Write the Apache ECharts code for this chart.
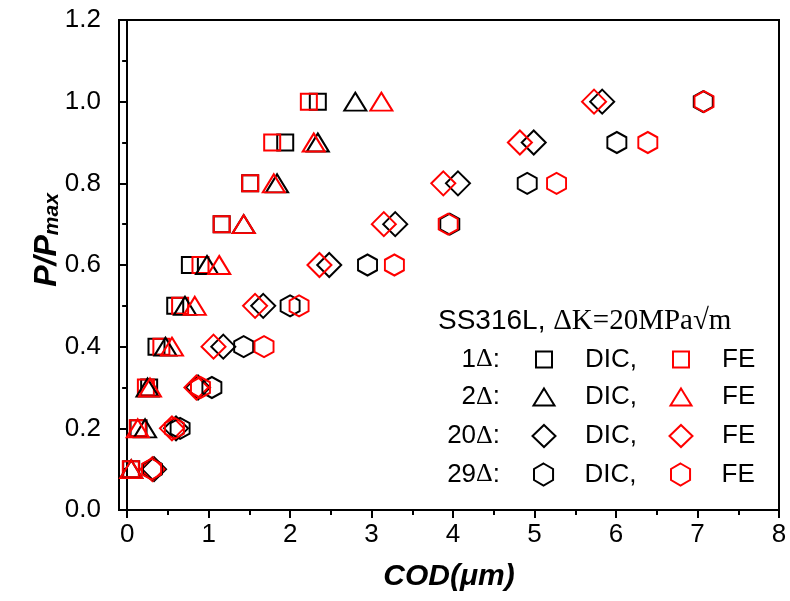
<!DOCTYPE html>
<html><head><meta charset="utf-8">
<script src="https://cdn.jsdelivr.net/npm/echarts@6/dist/echarts.min.js"></script>
<style>html,body{margin:0;padding:0;background:#fff}#c{width:790px;height:601px}</style>
</head><body><div id="c"></div>
<script>
// ---------------- data ----------------
const loadLevels = [0.1, 0.2, 0.3, 0.4, 0.5, 0.6, 0.7, 0.8, 0.9, 1.0];   // P/Pmax
const cod1DIC  = [0.05, 0.14, 0.27, 0.36, 0.59, 0.77, 1.16, 1.51, 1.94, 2.34];
const cod1FE   = [0.045, 0.13, 0.23, 0.42, 0.65, 0.90, 1.16, 1.51, 1.78, 2.23];
const cod2DIC  = [0.05, 0.22, 0.25, 0.47, 0.71, 0.98, 1.43, 1.84, 2.34, 2.80];
const cod2FE   = [0.05, 0.13, 0.28, 0.55, 0.83, 1.13, 1.43, 1.80, 2.29, 3.12];
const cod20DIC = [0.33, 0.60, 0.87, 1.18, 1.67, 2.48, 3.29, 4.06, 4.99, 5.83];
const cod20FE  = [0.31, 0.55, 0.85, 1.06, 1.57, 2.36, 3.15, 3.88, 4.82, 5.73];
const cod29DIC = [0.31, 0.65, 1.04, 1.43, 2.00, 2.95, 3.96, 4.91, 6.01, 7.07];
const cod29FE  = [0.30, 0.58, 0.90, 1.68, 2.11, 3.28, 3.94, 5.27, 6.39, 7.08];
const xTickValues = [0, 1, 2, 3, 4, 5, 6, 7, 8];
const xMinorTickValues = [0.5, 1.5, 2.5, 3.5, 4.5, 5.5, 6.5, 7.5];
const groupLabels = ['1', '2', '20', '29'];
const legendTitleA = 'SS316L, ';
const legendTitleB = 'ΔK=20MPa√m';
const xName = 'COD(μm)';

// ---------------- styling ----------------
const SANS = 'Liberation Sans, Arial, sans-serif';
const SERIF = 'Liberation Serif, Times New Roman, serif';
const HEX = 'path://M10,0L20,5.77L20,17.32L10,23.09L0,17.32L0,5.77Z';
const shapes = [
  { symbol: 'rect', size: 16, legendSize: [16, 16] },
  { symbol: 'triangle', size: [22, 18], legendSize: [21, 17] },
  { symbol: 'diamond', size: [24, 24], legendSize: [23, 22] },
  { symbol: HEX, size: [19, 21], legendSize: [20, 22] }
];
const groups = [
  [cod1DIC, cod1FE], [cod2DIC, cod2FE], [cod20DIC, cod20FE], [cod29DIC, cod29FE]
];
const colors = ['#000000', '#ff0000'];
const kinds = ['DIC', 'FE'];

const series = [];
groups.forEach((g, gi) => {
  g.forEach((xs, ki) => {
    series.push({
      name: groupLabels[gi] + 'Δ ' + kinds[ki],
      type: 'scatter',
      data: xs.map((x, i) => [x, loadLevels[i]]),
      symbol: shapes[gi].symbol,
      symbolSize: shapes[gi].size,
      itemStyle: { color: 'rgba(0,0,0,0)', borderColor: colors[ki], borderWidth: 2, opacity: 1 },
      emphasis: { disabled: true },
      silent: true
    });
  });
});

const rowY = [359.5, 397, 436, 474.5];
const iconX = [543, 680];
const legendTexts = ['DIC,', 'FE'];
const legends = [];
groups.forEach((g, gi) => {
  kinds.forEach((k, ki) => {
    const [w, h] = shapes[gi].legendSize;
    legends.push({
      left: iconX[ki] - w / 2,
      top: rowY[gi] - 13,
      padding: 0,
      itemWidth: w,
      itemHeight: h,
      selectedMode: false,
      data: [groupLabels[gi] + 'Δ ' + k],
      formatter: () => '{t|' + legendTexts[ki] + '}',
      textStyle: {
        rich: { t: { fontFamily: SANS, fontSize: 26, color: '#000', padding: [0, 0, 0, 36 - w / 2] } }
      }
    });
  });
});

const graphics = [
  {
    type: 'text', x: 438, y: 321,
    style: {
      text: '{a|' + legendTitleA + '}{b|' + legendTitleB + '}',
      rich: {
        a: { fontFamily: SANS, fontSize: 28, fill: '#000' },
        b: { fontFamily: SERIF, fontSize: 29, fill: '#000' }
      },
      align: 'left', verticalAlign: 'middle'
    }
  }
];
groupLabels.forEach((lab, gi) => {
  graphics.push({
    type: 'text', x: 500, y: rowY[gi],
    style: {
      text: '{d|' + lab + '}{D|Δ}{d|:}',
      rich: {
        d: { fontFamily: SANS, fontSize: 26, fill: '#000' },
        D: { fontFamily: SERIF, fontSize: 26, fill: '#000' }
      },
      align: 'right', verticalAlign: 'middle'
    }
  });
});

const chart = echarts.init(document.getElementById('c'), null, { renderer: 'canvas' });
chart.setOption({
  animation: false,
  backgroundColor: '#fff',
  grid: { left: 119, right: 11, top: 20, bottom: 91, show: true, borderColor: '#000', borderWidth: 2, backgroundColor: 'transparent' },
  xAxis: [{
    type: 'value', min: -0.1, max: 8,
    axisLine: { show: true, onZero: false, lineStyle: { color: '#000', width: 2 } },
    axisTick: { show: true, customValues: xTickValues, length: 8, lineStyle: { color: '#000', width: 2 } },
    axisLabel: { customValues: xTickValues, fontFamily: SANS, fontSize: 26, color: '#000', margin: 12 },
    splitLine: { show: false },
    name: xName, nameLocation: 'middle', nameGap: 52, nameMoveOverlap: false,
    nameTextStyle: { fontFamily: SANS, fontSize: 30, fontWeight: 'bold', fontStyle: 'italic', color: '#000' }
  }, {
    type: 'value', min: -0.1, max: 8, position: 'bottom',
    axisLine: { show: false },
    axisTick: { show: true, customValues: xMinorTickValues, length: 5, lineStyle: { color: '#000', width: 2 } },
    axisLabel: { show: false },
    splitLine: { show: false }
  }],
  yAxis: {
    type: 'value', min: 0, max: 1.2, interval: 0.2,
    axisLine: { show: true, lineStyle: { color: '#000', width: 2 } },
    axisTick: { show: true, length: 8, lineStyle: { color: '#000', width: 2 } },
    minorTick: { show: true, splitNumber: 2, length: 5, lineStyle: { color: '#000', width: 2 } },
    axisLabel: { formatter: v => v.toFixed(1), fontFamily: SANS, fontSize: 26, color: '#000', margin: 18 },
    splitLine: { show: false },
    minorSplitLine: { show: false },
    name: '{p|P/P}{s|max}', nameLocation: 'middle', nameGap: 56, nameMoveOverlap: false,
    nameTextStyle: {
      rich: {
        p: { fontFamily: SANS, fontSize: 32, fontWeight: 'bold', fontStyle: 'italic', color: '#000', lineHeight: 32, verticalAlign: 'top', padding: [0, 0, 0, 50] },
        s: { fontFamily: SANS, fontSize: 21, fontWeight: 'bold', fontStyle: 'italic', color: '#000', lineHeight: 21, padding: [19, 0, 0, 0], verticalAlign: 'bottom' }
      }
    }
  },
  legend: legends,
  graphic: graphics,
  series: series
});
</script></body></html>
